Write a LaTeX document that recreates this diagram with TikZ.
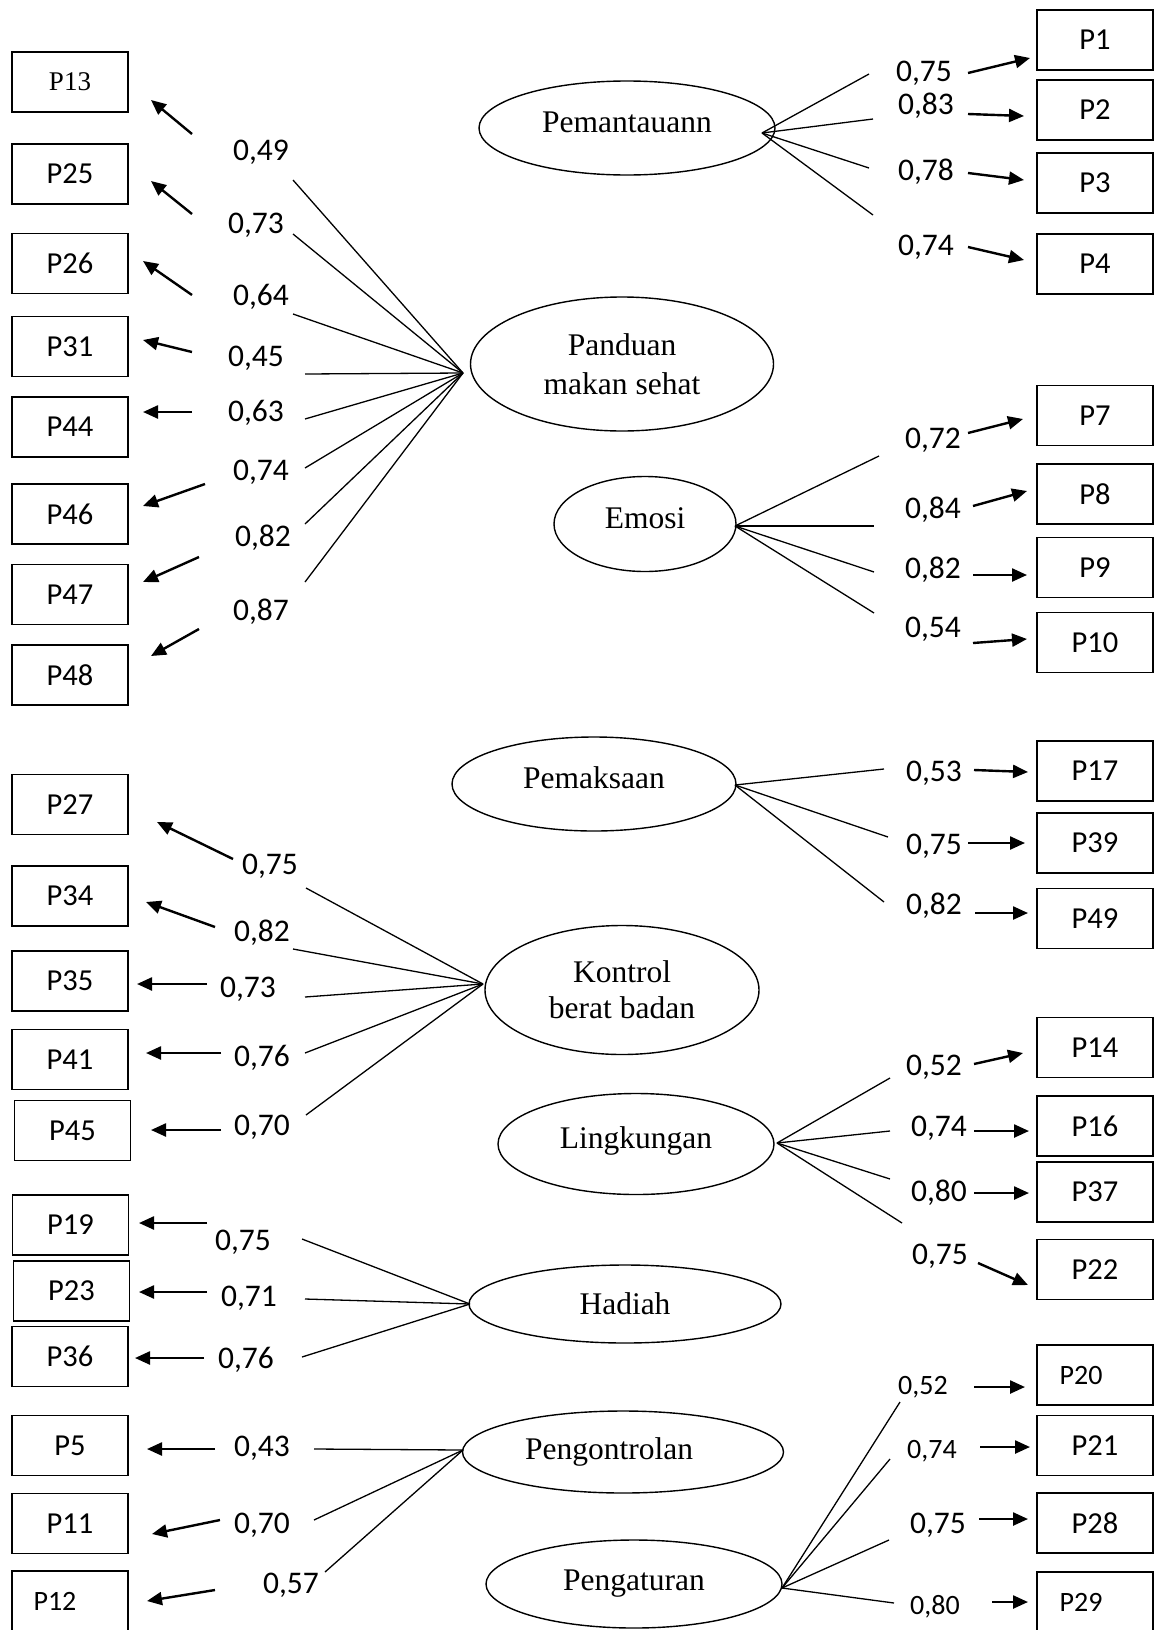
\documentclass[tikz,border=0pt]{standalone}
\usepackage{fontspec}
\setmainfont{Liberation Serif}
\newfontfamily\calfont{Carlito}
\usetikzlibrary{shapes.geometric,arrows.meta}

\tikzset{
	obs/.style={draw, line width=1.8pt, minimum width=116pt, minimum height=60pt, inner sep=0pt, font=\calfont\fontsize{30.5}{34}\selectfont},
	lat/.style={draw, ellipse, line width=1.4pt, inner sep=0pt, align=center, font=\fontsize{31.5}{36}\selectfont},
	lift/.style={text height=21pt, text depth=12pt},
	lab/.style={inner sep=0pt, font=\calfont\fontsize{31.5}{36}\selectfont},
	labs/.style={inner sep=0pt, font=\calfont\fontsize{28}{32}\selectfont},
	conn/.style={line width=1.3pt},
	arr/.style={line width=2.4pt, -{Triangle[length=15pt,width=13pt]}}
}

\begin{document}
\begin{tikzpicture}[x=1pt,y=-1pt]

	\useasboundingbox (0,0) rectangle (1155,1630);

	% factors
	\node[lat, lift, minimum width=296pt, minimum height=94pt] (pemantauan) at (627,128) {Pemantauann};
	\node[lat, minimum width=303pt, minimum height=134pt] (panduan) at (622,364) {Panduan\\[3pt]makan sehat};
	\node[lat, lift, minimum width=182pt, minimum height=95pt] (emosi) at (645,524) {Emosi};
	\node[lat, lift, minimum width=284pt, minimum height=94pt] (pemaksaan) at (594,784) {Pemaksaan};
	\node[lat, minimum width=274pt, minimum height=129pt] (kontrol) at (622,990) {Kontrol\\berat badan};
	\node[lat, lift, minimum width=276pt, minimum height=101pt] (lingkungan) at (636,1144) {Lingkungan};
	\node[lat, minimum width=312pt, minimum height=78pt] (hadiah) at (625,1304) {Hadiah};
	\node[lat, minimum width=321pt, minimum height=82pt] (pengontrolan) at (623,1452) {Pengontrolan\kern28pt};
	\node[lat, minimum width=296pt, minimum height=88pt] (pengaturan) at (634,1584) {Pengaturan};

	% items
	\node[obs, font=\fontsize{27}{30}\selectfont] (p13) at (70,82) {P13};
	\foreach \i/\xa/\ya in {
	25/70/174, 26/70/263.5, 31/70/346.5, 44/70/427, 46/70/514, 47/70/594.5, 48/70/675,
	27/70/804.5, 34/70/896, 35/70/981, 41/70/1059.5, 45/72.5/1130.5,
	19/70.5/1225, 23/71.5/1291, 36/70/1356.5, 5/70/1445.5, 11/70/1523.5,
	1/1095/40, 2/1095/110, 3/1095/183, 4/1095/264,
	7/1095/415.5, 8/1095/494, 9/1095/567.5, 10/1095/642.5,
	17/1095/771, 39/1095/843, 49/1095/918.5,
	14/1095/1047.5, 16/1095/1126, 37/1095/1192, 22/1095/1269.5,
	21/1095/1445.5, 28/1095/1523}
	{
		\node[obs] (p\i) at (\xa,\ya) {P\i};
	};
	\node[obs, font=\calfont\fontsize{28}{32}\selectfont] (p12) at (70,1601) {P12\kern30pt};
	\node[obs, font=\calfont\fontsize{28}{32}\selectfont] (p20) at (1095,1375) {P20\kern28pt};
	\node[obs, font=\calfont\fontsize{28}{32}\selectfont] (p29) at (1095,1602) {P29\kern28pt};

	% hubs
	\coordinate (hpem) at (762,133);
	\coordinate (hpan) at (463,373);
	\coordinate (hemo) at (735,526);
	\coordinate (hpks) at (735,785);
	\coordinate (hkon) at (483,984);
	\coordinate (hlin) at (777,1143);
	\coordinate (hhad) at (470,1304);
	\coordinate (hpgn) at (463,1450);
	\coordinate (hpgt) at (782,1588);

	\foreach \h/\i/\xa/\ya in {
	hpan/13/293/180, hpan/25/293/234, hpan/26/293/314, hpan/31/305/374,
	hpan/44/305/419, hpan/46/305/468, hpan/47/305/524, hpan/48/305/582,
	hpem/1/869/74, hpem/2/873/119, hpem/3/869/168, hpem/4/873/215,
	hemo/7/879/456, hemo/8/874/526, hemo/9/874/572, hemo/10/874/613,
	hpks/17/884/769, hpks/39/888/837, hpks/49/884/902,
	hkon/27/306/888, hkon/34/293/949, hkon/35/305/997, hkon/41/305/1053, hkon/45/306/1115,
	hlin/14/890/1078, hlin/16/890/1131, hlin/37/890/1179, hlin/22/902/1223,
	hhad/19/302/1239, hhad/23/305/1299, hhad/36/302/1357,
	hpgn/5/314/1449, hpgn/11/314/1520, hpgn/12/325/1572,
	hpgt/20/900/1402, hpgt/21/890/1459, hpgt/28/889/1540, hpgt/29/894/1603}
	{
		\coordinate (e\i) at (\xa,\ya);
		\path (\h) edge[conn] (e\i);
	};

	% loadings
	\foreach \i/\xa/\ya/\v in {
	13/261/152/49, 25/256/225/73, 26/261/297/64, 31/256/358/45,
	44/256/413/63, 46/261/472/74, 47/263/538/82, 48/261/612/87,
	1/924/73/75, 2/926/106/83, 3/926/172/78, 4/926/247/74,
	7/933/440/72, 8/933/510/84, 9/933/570/82, 10/933/629/54,
	17/934/773/53, 39/934/846/75, 49/934/906/82,
	27/270/866/75, 34/262/933/82, 35/248/989/73, 41/262/1058/76, 45/262/1127/70,
	14/934/1067/52, 16/939/1128/74, 37/939/1193/80, 22/940/1256/75,
	19/243/1242/75, 23/249/1298/71, 36/246/1360/76,
	5/262/1448/43, 11/262/1525/70, 12/291/1585/57,
	28/938/1525/75}
	{
		\node[lab] (l\i) at (\xa,\ya) {0,\v};
	};
	\node[labs] (l20) at (923,1387) {0,52};
	\node[labs] (l21) at (932,1451) {0,74};
	\node[labs] (l29) at (935,1607) {0,80};

	\foreach \i/\xa/\ya/\xb/\yb in {
	13/192/134/151/100, 25/192/214/151/181, 26/192/295/143/261, 31/192/352/143/340,
	44/192/412/143/412, 46/205/484/143/506, 47/199/557/143/582, 48/199/629/151/656,
	1/968/73/1030/58, 2/968/114/1024/116, 3/968/173/1024/180, 4/968/247/1024/260,
	7/968/433/1023/419, 8/973/506/1027/491, 9/973/575/1027/575, 10/973/643/1027/639,
	17/974/770/1028/772, 39/968/843/1025/843, 49/975/913/1028/913,
	27/233/859/157/822, 34/215/927/146/902, 35/207/984/137/984, 41/221/1053/146/1053, 45/221/1130/151/1130,
	14/974/1064/1023/1053, 16/974/1131/1029/1131, 37/974/1193/1029/1193, 22/978/1263/1028/1285,
	19/207/1223/139/1223, 23/207/1292/139/1292, 36/204/1358/135/1358,
	5/215/1449/147/1449, 11/220/1520/152/1534, 12/215/1590/147/1601,
	20/974/1387/1025/1387, 21/980/1447/1030/1447, 28/979/1519/1028/1519, 29/992/1602/1028/1602}
	{
		\coordinate (a\i) at (\xa,\ya);
		\coordinate (b\i) at (\xb,\yb);
		\draw[arr] (a\i) -- (b\i);
	};
\end{tikzpicture}
\end{document}
